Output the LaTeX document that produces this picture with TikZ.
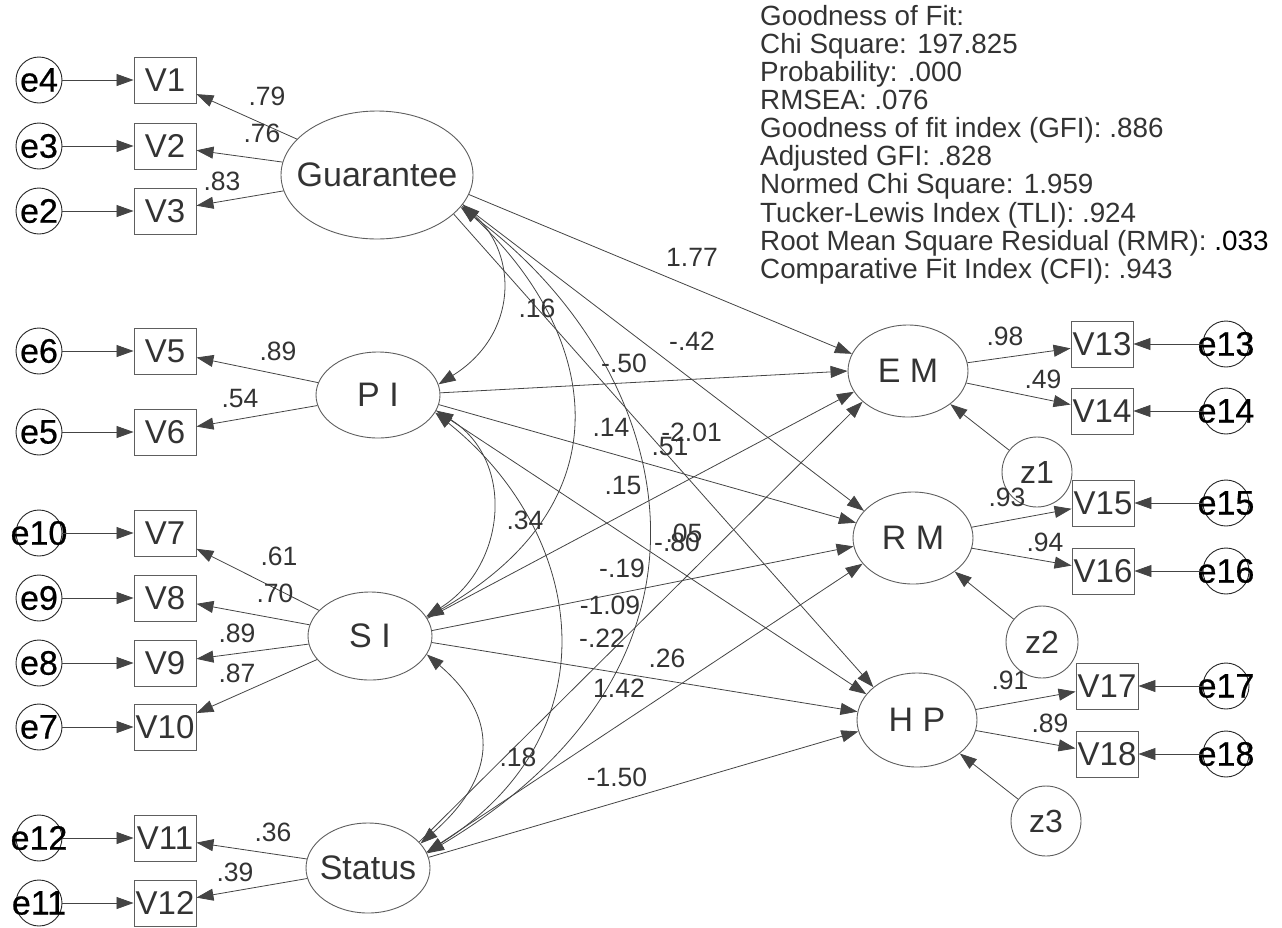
\documentclass[tikz,border=0pt]{standalone}
\usepackage{fontspec}
\setmainfont{Liberation Sans}
\newfontfamily\errfont[FakeBold=0.6]{Liberation Sans}
\usetikzlibrary{shapes.geometric,arrows.meta}
\definecolor{ink}{HTML}{333333}
\definecolor{wire}{HTML}{444444}
\definecolor{rim}{HTML}{5E5E5E}
\begin{document}
\begin{tikzpicture}[x=1pt,y=-1pt,
  every node/.style={inner sep=0pt},
  lat/.style={ellipse, draw=rim, line width=0.9pt},
  lattxt/.style={font=\fontsize{34}{34}\selectfont, text=ink},
  obs/.style={rectangle, draw=rim, line width=0.9pt, minimum width=62pt, minimum height=46pt,
              font=\fontsize{33}{33}\selectfont, text=ink},
  err/.style={circle, draw=black!85, line width=0.9pt, minimum size=46pt},
  errtxt/.style={font=\errfont\fontsize{34}{34}\selectfont, text=black},
  res/.style={circle, draw=rim, line width=0.9pt, font=\fontsize{32}{32}\selectfont, text=ink},
  coef/.style={font=\fontsize{26.5}{26.5}\selectfont, text=ink},
  tip/.tip={Triangle[length=17pt,width=12pt]},
  reg/.style={draw=wire, line width=0.8pt, -tip},
  cov/.style={draw=wire, line width=0.8pt, tip-tip},
]
\useasboundingbox (0,0) rectangle (1282,927);

% ---- latent constructs ----
\node[lat, minimum width=192pt, minimum height=128pt, label={[lattxt]center:Guarantee}] (G)  at (377,175) {};
\node[lat, minimum width=124pt, minimum height=86pt,  label={[lattxt]center:P I}]       (PI) at (378,395) {};
\node[lat, minimum width=124pt, minimum height=88pt,  label={[lattxt]center:S I}]       (SI) at (370,636) {};
\node[lat, minimum width=124pt, minimum height=90pt,  label={[lattxt]center:Status}]    (ST) at (368,868) {};
\node[lat, minimum width=120pt, minimum height=92pt,  label={[lattxt]center:E M}]       (EM) at (908,371) {};
\node[lat, minimum width=120pt, minimum height=92pt,  label={[lattxt]center:R M}]       (RM) at (913,538) {};
\node[lat, minimum width=120pt, minimum height=94pt,  label={[lattxt]center:H P}]       (HP) at (917,720) {};

% ---- disturbances ----
\node[res, minimum size=70pt] (z1) at (1037,472) {z1};
\node[res, minimum size=72pt] (z2) at (1042,642) {z2};
\node[res, minimum size=70pt] (z3) at (1046,821) {z3};
\draw[reg] (z1) -- (EM);
\draw[reg] (z2) -- (RM);
\draw[reg] (z3) -- (HP);

% ---- indicators on the left with their error terms ----
\foreach \e/\v/\y in {e4/V1/80, e3/V2/146, e2/V3/211, e6/V5/351, e5/V6/432,
                      e10/V7/533, e9/V8/598, e8/V9/663, e7/V10/727, e12/V11/838, e11/V12/903}{
  \node[err, label={[errtxt]center:\e}] (\e) at (39,\y) {};
  \node[obs] (\v) at (165,\y) {\v};
  \draw[reg] (\e) -- (\v);
}

% ---- indicators on the right with their error terms ----
\foreach \e/\v/\x/\y in {e13/V13/1102/344, e14/V14/1102/411, e15/V15/1103/503,
                         e16/V16/1103/571, e17/V17/1107/686, e18/V18/1107/754}{
  \node[obs] (\v) at (\x,\y) {\v};
  \node[err, label={[errtxt]center:\e}] (\e) at (1226,\y) {};
  \draw[reg] (\e) -- (\v);
}

% ---- measurement paths ----
\draw[reg] (G) -- (V1);  \draw[reg] (G) -- (V2);  \draw[reg] (G) -- (V3);
\draw[reg] (PI) -- (V5); \draw[reg] (PI) -- (V6);
\draw[reg] (SI) -- (V7); \draw[reg] (SI) -- (V8); \draw[reg] (SI) -- (V9); \draw[reg] (SI) -- (V10);
\draw[reg] (ST) -- (V11); \draw[reg] (ST) -- (V12);
\draw[reg] (EM) -- (V13); \draw[reg] (EM) -- (V14);
\draw[reg] (RM) -- (V15); \draw[reg] (RM) -- (V16);
\draw[reg] (HP) -- (V17); \draw[reg] (HP) -- (V18);

% ---- structural paths ----
\draw[reg] (G.-12) -- (EM.163);
\draw[reg] (G.-19) -- (RM.151);
\draw[reg] (G.-27) -- (HP.143);
\draw[reg] (PI.2)   -- (EM.180);
\draw[reg] (PI.-9)  -- (RM.165);
\draw[reg] (PI.-15) -- (HP.153);
\draw[reg] (SI.17) -- (EM.201);
\draw[reg] (SI.5)  -- (RM.188);
\draw[reg] (SI.-6) -- (HP.172);
\draw[reg] (ST.27) -- (EM.214);
\draw[reg] (ST.15) -- (RM.207);
\draw[reg] (ST.10) -- (HP.191);

% ---- covariances among the exogenous constructs ----
\draw[cov] (G.-19) .. controls +(55,50) and +(80,-50) .. (PI.10);
\draw[cov] (G.-20) .. controls +(130,120) and +(210,-120) .. (SI.18);
\draw[cov] (G.-21) .. controls +(205,150) and +(335,-200) .. (ST.14);
\draw[cov] (PI.-15) .. controls +(80,50) and +(80,-50) .. (SI.19);
\draw[cov] (PI.-17) .. controls +(150,120) and +(190,-120) .. (ST.15);
\draw[cov] (SI.-18) .. controls +(70,60) and +(80,-70) .. (ST.25);

% ---- loadings ----
\node[coef] (l1)  at (267,96)  {.79};
\node[coef] (l2)  at (262,133) {.76};
\node[coef] (l3)  at (222,181) {.83};
\node[coef] (l4)  at (278,351) {.89};
\node[coef] (l5)  at (240,399) {.54};
\node[coef] (l6)  at (279,556) {.61};
\node[coef] (l7)  at (275,593) {.70};
\node[coef] (l8)  at (237,633) {.89};
\node[coef] (l9)  at (237,673) {.87};
\node[coef] (l10) at (273,832) {.36};
\node[coef] (l11) at (235,872) {.39};
\node[coef] (l12) at (1005,336) {.98};
\node[coef] (l13) at (1043,379) {.49};
\node[coef] (l14) at (1007,497) {.93};
\node[coef] (l15) at (1045,542) {.94};
\node[coef] (l16) at (1010,680) {.91};
\node[coef] (l17) at (1050,723) {.89};

% ---- structural estimates and covariances ----
\node[coef] (s1)  at (692,257) {1.77};
\node[coef] (s2)  at (537,308) {.16};
\node[coef] (s3)  at (692,341) {-.42};
\node[coef] (s4)  at (624,363) {-.50};
\node[coef] (s5)  at (611,427) {.14};
\node[coef, anchor=east] (s6) at (722,432) {-2.01};
\node[coef] (s7)  at (670,447) {.51};
\node[coef] (s8)  at (623,486) {.15};
\node[coef] (s9)  at (525,520) {.34};
\node[coef] (s10) at (684,533) {.05};
\node[coef] (s11) at (677,542) {-.80};
\node[coef] (s12) at (622,568) {-.19};
\node[coef] (s13) at (610,605) {-1.09};
\node[coef] (s14) at (602,638) {-.22};
\node[coef] (s15) at (667,658) {.26};
\node[coef] (s16) at (619,688) {1.42};
\node[coef] (s17) at (518,757) {.18};
\node[coef] (s18) at (617,777) {-1.50};

% ---- fit summary ----
\node[anchor=north west, align=left, font=\fontsize{27.8}{28.1}\selectfont, text=ink] (fit) at (760,5)
{Goodness of Fit:\\
Chi Square: 197.825\\
Probability: .000\\
RMSEA: .076\\
Goodness of fit index (GFI): .886\\
Adjusted GFI: .828\\
Normed Chi Square: 1.959\\
Tucker-Lewis Index (TLI): .924\\
Root Mean Square Residual (RMR): \textcolor{black}{.033}\\
Comparative Fit Index (CFI): .943};
\end{tikzpicture}
\end{document}
